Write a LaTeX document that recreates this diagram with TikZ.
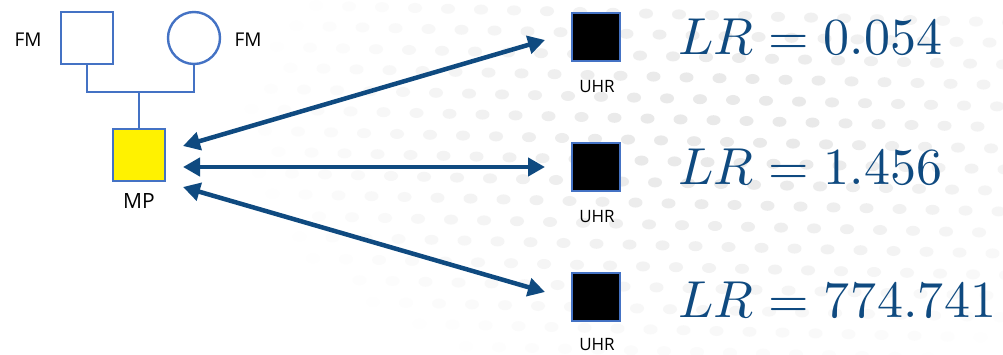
\documentclass[tikz,border=0pt]{standalone}
\usepackage{fontspec}
\usepackage{unicode-math}
\setsansfont{Open Sans}
\setmathfont{Latin Modern Math}
\usetikzlibrary{arrows.meta}
\definecolor{pedline}{HTML}{4472C4}
\definecolor{lrblue}{HTML}{0F4A80}
\definecolor{dotgray}{HTML}{D8D8D8}
\begin{document}
\begin{tikzpicture}[x=1pt,y=-1pt,
  sqbox/.style={draw=pedline,line width=2.4pt,minimum size=52pt,inner sep=0pt},
  uhrbox/.style={draw=pedline,line width=2.4pt,fill=black,minimum size=48pt,inner sep=0pt},
  lbl/.style={font=\sffamily\fontsize{17}{20}\selectfont,text=black,inner sep=0pt},
  lrtext/.style={anchor=base west,inner sep=0pt,text=lrblue,font=\fontsize{52}{60}\selectfont},
  link/.style={draw=pedline,line width=2.4pt},
  lrarrow/.style={draw=lrblue,line width=4.5pt,{Triangle[length=17pt,width=18pt]}-{Triangle[length=17pt,width=18pt]}}]
\useasboundingbox (0,0) rectangle (1003,355);
\fill[white] (0,0) rectangle (1003,355);

% faint halftone dots in the background
\foreach \r in {0,...,17}{
  \foreach \c in {0,...,24}{
    \pgfmathsetmacro{\px}{250+\c*33+mod(\r,2)*16.5-\r*3}
    \pgfmathsetmacro{\py}{4+\r*21+\c*0.8}
    \pgfmathsetmacro{\dd}{sqrt(((\px-720)/420)^2+((\py-130)/230)^2)}
    \pgfmathsetmacro{\op}{max(0,min(1,1.25-1.1*\dd))}
    \fill[dotgray,opacity=\op*0.55] (\px,\py) ellipse[x radius=7pt,y radius=5pt];
  }
}

% pedigree
\node[sqbox] (fa) at (87,38) {};
\node[draw=pedline,line width=2.4pt,circle,minimum size=52pt,inner sep=0pt] (mo) at (194,38) {};
\node[lbl,font=\sffamily\fontsize{19}{22}\selectfont] (fal) at (28,40) {FM};
\node[lbl,font=\sffamily\fontsize{19}{22}\selectfont] (mol) at (248,40) {FM};
\coordinate (sib) at (139,92);
\draw[link] (fa.south) |- (sib) -| (mo.south);
\node[sqbox,fill=yellow] (mp) at (139,155) {};
\draw[link] (sib) -- (mp.north);
\node[lbl,font=\sffamily\fontsize{21}{24}\selectfont] (mpl) at (139,201) {MP};

% unrelated candidates
\node[uhrbox] (u1) at (596,37) {};
\node[uhrbox] (u2) at (596,167) {};
\node[uhrbox] (u3) at (596,297) {};
\node[lbl] (u1l) at (597,87) {UHR};
\node[lbl] (u2l) at (597,217) {UHR};
\node[lbl] (u3l) at (597,345) {UHR};

% likelihood ratios
\node[lrtext] (lr1) at (678,55) {$LR = 0.054$};
\node[lrtext] (lr2) at (678,185) {$LR = 1.456$};
\node[lrtext] (lr3) at (678,317) {$LR = 774.741$};

% comparison arrows
\coordinate (a1) at (183,146);
\coordinate (a2) at (183,167);
\coordinate (a3) at (183,187);
\coordinate (b1) at (545,40);
\coordinate (b2) at (545,167);
\coordinate (b3) at (545,292);
\draw[lrarrow] (a1) -- (b1);
\draw[lrarrow] (a2) -- (b2);
\draw[lrarrow] (a3) -- (b3);
\end{tikzpicture}
\end{document}
